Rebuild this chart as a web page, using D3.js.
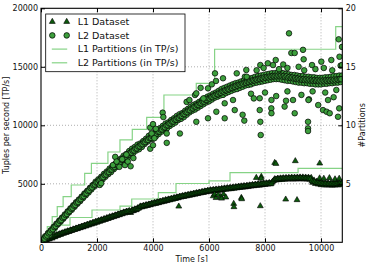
<!DOCTYPE html>
<html>
<head>
<meta charset="utf-8">
<script src="https://cdn.jsdelivr.net/npm/d3@7"></script>
<style>
body { margin: 0; background: #fff; }
text { font-family: "DejaVu Sans", sans-serif; fill: #111; }
</style>
</head>
<body>
<div id="chart"></div>
<script>
// dense measurement runs, one value every runStep seconds
// run A starts at t=0, run B at t=runStep/2
var runStep = 50;
var l1Run = [
    0, 80, 60, 180, 150, 280, 260, 380, 340, 480,
    450, 600, 560, 690, 650, 780, 740, 870, 820, 960,
    900, 1040, 990, 1120, 1070, 1200, 1140, 1280, 1220, 1360,
    1290, 1440, 1370, 1520, 1450, 1600, 1530, 1680, 1610, 1770,
    1690, 1840, 1770, 1920, 1850, 2000, 1930, 2080, 2010, 2170,
    2090, 2240, 2170, 2320, 2250, 2400, 2330, 2480, 2410, 2570,
    2480, 2640, 2550, 2700, 2520, 2760, 2680, 2840, 2760, 2930,
    2940, 3080, 3000, 3130, 3060, 3190, 3120, 3250, 3180, 3320,
    3240, 3380, 3300, 3440, 3360, 3500, 3420, 3560, 3480, 3630,
    3540, 3680, 3600, 3740, 3660, 3800, 3720, 3860, 3780, 3920,
    3840, 3970, 3890, 4020, 3940, 4070, 3990, 4120, 4040, 4170,
    4090, 4220, 4140, 4270, 4190, 4320, 4240, 4370, 4290, 4420,
    4330, 4470, 4360, 4500, 4390, 4530, 4410, 4550, 4430, 4580,
    4480, 4620, 4510, 4650, 4540, 4680, 4560, 4700, 4590, 4730,
    4630, 4770, 4660, 4800, 4690, 4830, 4710, 4850, 4740, 4880,
    4780, 4920, 4810, 4950, 4840, 4980, 4860, 5000, 4890, 5030,
    4920, 5060, 4950, 5090, 4970, 5120, 5250, 5420, 5300, 5460,
    5330, 5480, 5350, 5500, 5370, 5520, 5380, 5530, 5390, 5540,
    5380, 5540, 5390, 5550, 5400, 5560, 5400, 5560, 5390, 5550,
    5380, 5540, 5360, 5520, 5100, 5300, 5000, 5200, 4950, 5150,
    4900, 5100, 4880, 5080, 4870, 5070, 4870, 5070, 4860, 5060,
    4870, 5080, 4880, 5090, 4900, 5100
];
var l1RunB = [
    30, 100, 140, 230, 270, 340, 370, 440, 460, 530,
    550, 620, 640, 710, 730, 790, 810, 870, 890, 940,
    960, 1020, 1040, 1100, 1120, 1180, 1200, 1260, 1280, 1340,
    1360, 1420, 1440, 1500, 1520, 1580, 1600, 1660, 1680, 1740,
    1760, 1820, 1840, 1900, 1920, 1980, 2000, 2060, 2080, 2140,
    2160, 2220, 2240, 2300, 2320, 2380, 2400, 2460, 2480, 2540,
    2550, 2610, 2620, 2600, 2640, 2730, 2750, 2810, 2830, 2890,
    3000, 3050, 3060, 3110, 3120, 3170, 3180, 3230, 3240, 3290,
    3300, 3350, 3360, 3410, 3420, 3470, 3480, 3530, 3540, 3590,
    3600, 3650, 3660, 3710, 3720, 3770, 3780, 3830, 3840, 3890,
    3900, 3940, 3950, 3990, 4000, 4040, 4050, 4090, 4100, 4140,
    4150, 4190, 4200, 4240, 4250, 4290, 4300, 4340, 4350, 4390,
    4390, 4420, 4420, 4450, 4450, 4480, 4480, 4510, 4510, 4540,
    4540, 4570, 4570, 4600, 4600, 4630, 4630, 4660, 4660, 4690,
    4690, 4720, 4720, 4750, 4750, 4780, 4780, 4810, 4810, 4840,
    4840, 4870, 4870, 4900, 4900, 4930, 4930, 4960, 4960, 4990,
    4980, 5010, 5000, 5030, 5030, 5210, 5320, 5370, 5370, 5410,
    5390, 5430, 5420, 5450, 5440, 5460, 5450, 5470, 5450, 5480,
    5450, 5480, 5460, 5490, 5470, 5490, 5460, 5480, 5450, 5470,
    5440, 5450, 5420, 5260, 5190, 5160, 5090, 5080, 5040, 5040,
    4990, 5000, 4970, 4990, 4960, 4980, 4950, 4980, 4950, 4970,
    4960, 4990, 4980, 5010, 4990
];
var l2Run = [
    0, 220, 180, 520, 430, 790, 610, 1030, 930, 1320,
    1250, 1590, 1520, 1860, 1760, 2110, 2020, 2380, 2270, 2640,
    2550, 2900, 2780, 3160, 3040, 3420, 3290, 3650, 3520, 3900,
    3780, 4170, 4020, 4400, 4260, 4660, 4520, 4900, 4760, 5180,
    4950, 5380, 5170, 5600, 5380, 5850, 5600, 6050, 5820, 6300,
    6000, 6500, 6250, 6700, 6450, 6950, 6650, 7150, 6900, 7400,
    7050, 7550, 7250, 7800, 7450, 8000, 7650, 8150, 7850, 8350,
    7950, 8450, 8150, 8650, 8400, 8850, 8600, 9100, 8800, 9250,
    8850, 9350, 9050, 9550, 9250, 9750, 9450, 9950, 9650, 10150,
    9750, 10250, 9950, 10450, 10100, 10600, 10250, 10800, 10450, 10950,
    10550, 11050, 10700, 11250, 10900, 11400, 11100, 11600, 11250, 11750,
    11350, 11850, 11500, 12000, 11650, 12150, 11800, 12300, 11950, 12450,
    12050, 12550, 12200, 12700, 12350, 12800, 12450, 12950, 12550, 13100,
    12600, 13200, 12750, 13300, 12850, 13400, 12950, 13500, 13050, 13600,
    13100, 13650, 13200, 13750, 13300, 13850, 13400, 13950, 13450, 14000,
    13500, 14050, 13600, 14150, 13650, 14200, 13700, 14250, 13750, 14300,
    13800, 14350, 13850, 14400, 13900, 14450, 13950, 14450, 13950, 14500,
    13950, 14500, 13900, 14450, 13850, 14400, 13800, 14350, 13800, 14300,
    13750, 14300, 13700, 14250, 13650, 14200, 13650, 14200, 13600, 14150,
    13600, 14150, 13550, 14100, 13550, 14100, 13500, 14050, 13500, 14050,
    13500, 14050, 13550, 14100, 13550, 14100, 13600, 14150, 13600, 14200,
    13650, 14200, 13650, 14250, 13700, 14250
];
var l2RunB = [
    60, 230, 310, 490, 580, 760, 850, 1030, 1110, 1300,
    1380, 1570, 1650, 1830, 1900, 2090, 2160, 2340, 2420, 2610,
    2680, 2870, 2940, 3130, 3190, 3380, 3440, 3630, 3690, 3880,
    3940, 4130, 4190, 4380, 4440, 4630, 4690, 4880, 4940, 5100,
    5130, 5300, 5350, 5520, 5570, 5740, 5790, 5960, 6010, 6180,
    6220, 6390, 6440, 6610, 6660, 6830, 6880, 7050, 7100, 7270,
    7310, 7460, 7490, 7640, 7670, 7820, 7850, 8000, 8030, 8180,
    8210, 8360, 8390, 8540, 8570, 8720, 8750, 8900, 8930, 9080,
    9110, 9260, 9290, 9440, 9470, 9620, 9650, 9800, 9830, 9980,
    10010, 10150, 10170, 10310, 10330, 10470, 10490, 10630, 10650, 10790,
    10810, 10950, 10970, 11110, 11130, 11270, 11290, 11430, 11450, 11590,
    11600, 11730, 11740, 11870, 11880, 12010, 12020, 12150, 12160, 12290,
    12300, 12420, 12420, 12540, 12540, 12660, 12660, 12780, 12780, 12900,
    12890, 13000, 12990, 13100, 13090, 13200, 13190, 13300, 13290, 13400,
    13380, 13480, 13460, 13560, 13540, 13640, 13620, 13720, 13700, 13800,
    13770, 13860, 13830, 13920, 13890, 13980, 13950, 14040, 14010, 14100,
    14060, 14140, 14100, 14180, 14140, 14220, 14170, 14230, 14180, 14250,
    14190, 14240, 14160, 14220, 14120, 14180, 14070, 14130, 14030, 14080,
    13990, 14040, 13950, 14000, 13910, 13960, 13880, 13940, 13860, 13920,
    13840, 13900, 13820, 13880, 13800, 13860, 13780, 13840, 13760, 13820,
    13750, 13830, 13770, 13850, 13790, 13870, 13810, 13890, 13830, 13910,
    13850, 13930, 13890, 13960, 13940
];

// scattered samples off the main run [time, TP/s]
var l1Extra = [
    [4920, 3070], [6150, 3950], [6200, 4100], [6250, 3800], [6330, 4050],
    [6420, 3900], [6450, 3750], [6520, 4100], [6600, 3850], [6882, 3300],
    [6890, 3020], [7154, 3810], [7168, 3700], [7689, 5520], [7868, 5610],
    [7860, 5450], [7832, 3100], [8346, 6800], [8390, 6720], [8739, 3670],
    [9082, 6950], [9143, 3620], [9954, 6750], [9950, 5480], [10100, 5450],
    [10300, 5500], [10500, 5400], [10650, 5450]
];
var l2Extra = [
    [2100, 4900], [2150, 5050], [2570, 6600], [2650, 7300], [2700, 6900],
    [2800, 6450], [2900, 7100], [3000, 6600], [3050, 7500], [3100, 6900],
    [3200, 6500], [3300, 7200], [3900, 8000], [4000, 8300], [3950, 9300],
    [4050, 8900], [3900, 9800], [4000, 10100], [4100, 9700], [4345, 11080],
    [4370, 10700], [4490, 8500], [4490, 9300], [4960, 9300], [5200, 12000],
    [5300, 12160], [5500, 12590], [5546, 12730], [5546, 10300], [5700, 13200],
    [5800, 12300], [5964, 13160], [5964, 10600], [6100, 13500], [6214, 14440],
    [6250, 13790], [6261, 11160], [6500, 14020], [6560, 11880], [6560, 10600],
    [6857, 12160], [6918, 11300], [6990, 14440], [7200, 10900], [7260, 10400],
    [7280, 14150], [7332, 14730], [7346, 14150], [7500, 12700], [7600, 12300],
    [7700, 14700], [7810, 11300], [7810, 12310], [7832, 10300], [7832, 15150],
    [7846, 9170], [7950, 14900], [8000, 12800], [8100, 15300], [8225, 11450],
    [8230, 12160], [8230, 11030], [8286, 15150], [8382, 15580], [8400, 12500],
    [8500, 14800], [8650, 15200], [8700, 11600], [8750, 12100], [8800, 14900],
    [8800, 12900], [8857, 17860], [8940, 16180], [9000, 12160], [9060, 16180],
    [9060, 11030], [9200, 15000], [9300, 12600], [9357, 16450], [9380, 15640],
    [9400, 14700], [9536, 10300], [9536, 9740], [9536, 9510], [9570, 12220],
    [9550, 12160], [9679, 15150], [9700, 12900], [9800, 14800], [9900, 11730],
    [10011, 15440], [10071, 11300], [10100, 14900], [10150, 12800], [10200, 11160],
    [10250, 12160], [10310, 11030], [10368, 15580], [10400, 14700], [10450, 12400],
    [10546, 13020], [10607, 10730], [10632, 17350], [10650, 11450], [10660, 15860],
    [10700, 15100], [10750, 15150], [10750, 16700]
];

// partition steps, expressed in TP/s [start time, level]
var l1PartTime = [0, 560, 1036, 1821, 2821, 3240, 4190, 4821, 6000, 6750, 9180, 10760];
var l1PartValue = [500, 1470, 2120, 2760, 3100, 3700, 4240, 5025, 5256, 5950, 6325, 6325];
var l2PartTime = [0, 225, 400, 580, 790, 1080, 1560, 1800, 2390, 2820, 3260, 3775, 4390, 5545, 6200, 10525, 10760];
var l2PartValue = [540, 1333, 2188, 3043, 3897, 4897, 5897, 6752, 7720, 8750, 9660, 10680, 12590, 13590, 16500, 18430, 18430];

var xTicks = [0, 2000, 4000, 6000, 8000, 10000];
var yTicks = [5000, 10000, 15000, 20000];
var partTicks = [5, 10, 15, 20];
var legendLabels = ['L1 Dataset', 'L2 Dataset', 'L1 Partitions (in TP/s)', 'L2 Partitions (in TP/s)'];

var width = 366;
var height = 262;
var plotLeft = 41, plotRight = 342.3, plotTop = 8.3, plotBottom = 242.3;

var lineColor = '#86d386';
var l1Fill = '#0d5a0d';
var l2Fill = '#3c9f3c';

var x = d3.scaleLinear().domain([0, 10760]).range([plotLeft, plotRight]);
var y = d3.scaleLinear().domain([0, 20000]).range([plotBottom, plotTop]);
var yPart = d3.scaleLinear().domain([0, 20]).range([plotBottom, plotTop]);

var svg = d3.select('#chart').append('svg')
    .attr('width', width)
    .attr('height', height);

svg.append('defs').append('clipPath')
    .attr('id', 'plot-clip')
    .append('rect')
    .attr('x', plotLeft)
    .attr('y', plotTop)
    .attr('width', plotRight - plotLeft)
    .attr('height', plotBottom - plotTop);

// grid
var grid = svg.append('g')
    .attr('stroke', '#9a9a9a')
    .attr('stroke-width', 0.8)
    .attr('stroke-dasharray', '1,2');

grid.selectAll('.gx')
    .data(xTicks.slice(1))
    .enter()
    .append('line')
    .attr('x1', function(d) { return x(d); })
    .attr('x2', function(d) { return x(d); })
    .attr('y1', plotTop)
    .attr('y2', plotBottom);

grid.selectAll('.gy')
    .data(yTicks.slice(0, 3))
    .enter()
    .append('line')
    .attr('x1', plotLeft)
    .attr('x2', plotRight)
    .attr('y1', function(d) { return y(d); })
    .attr('y2', function(d) { return y(d); });

var plot = svg.append('g').attr('clip-path', 'url(#plot-clip)');

// step lines for partitions
var stepLine = d3.line()
    .x(function(d) { return x(d[0]); })
    .y(function(d) { return y(d[1]); })
    .curve(d3.curveStepAfter);

var l1Part = l1PartTime.map(function(t, i) { return [t, l1PartValue[i]]; });
var l2Part = l2PartTime.map(function(t, i) { return [t, l2PartValue[i]]; });

[l1Part, l2Part].forEach(function(steps) {
    plot.append('path')
        .datum(steps)
        .attr('d', stepLine)
        .attr('fill', 'none')
        .attr('stroke', lineColor)
        .attr('stroke-width', 1.2);
});

// scatter points
function runPoints(run, start) {
    return run.map(function(v, i) { return [start + i * runStep, v]; });
}
var l1Points = runPoints(l1Run, 0).concat(runPoints(l1RunB, runStep / 2), l1Extra);
var l2Points = runPoints(l2Run, 0).concat(runPoints(l2RunB, runStep / 2), l2Extra);

var triangle = d3.symbol().type(d3.symbolTriangle).size(15);

plot.append('g')
    .selectAll('path')
    .data(l1Points)
    .enter()
    .append('path')
    .attr('d', triangle)
    .attr('transform', function(d) { return 'translate(' + x(d[0]) + ',' + y(d[1]) + ')'; })
    .attr('fill', l1Fill)
    .attr('stroke', '#000')
    .attr('stroke-width', 0.6);

plot.append('g')
    .selectAll('circle')
    .data(l2Points)
    .enter()
    .append('circle')
    .attr('cx', function(d) { return x(d[0]); })
    .attr('cy', function(d) { return y(d[1]); })
    .attr('r', 2.8)
    .attr('fill', l2Fill)
    .attr('stroke', '#000')
    .attr('stroke-width', 0.7);

// axes
function styleAxis(g) {
    g.select('.domain').remove();
    g.selectAll('line').attr('stroke', '#000');
    g.selectAll('text').style('font-family', '"DejaVu Sans", sans-serif').attr('fill', '#111');
}

var fmt = d3.format('d');

svg.append('g')
    .attr('transform', 'translate(0,' + plotBottom + ')')
    .call(d3.axisBottom(x).tickValues(xTicks).tickFormat(fmt).tickSizeInner(-4).tickSizeOuter(0).tickPadding(3.5))
    .attr('font-size', 8)
    .call(styleAxis);

svg.append('g')
    .attr('transform', 'translate(0,' + plotTop + ')')
    .call(d3.axisTop(x).tickValues(xTicks).tickSizeInner(-4).tickSizeOuter(0).tickFormat(''))
    .call(styleAxis);

svg.append('g')
    .attr('transform', 'translate(' + plotLeft + ',0)')
    .call(d3.axisLeft(y).tickValues(yTicks).tickFormat(fmt).tickSizeInner(-4).tickSizeOuter(0).tickPadding(3))
    .attr('font-size', 8)
    .call(styleAxis);

svg.append('g')
    .attr('transform', 'translate(' + plotRight + ',0)')
    .call(d3.axisRight(yPart).tickValues(partTicks).tickFormat(fmt).tickSizeInner(-4).tickSizeOuter(0).tickPadding(3.4))
    .attr('font-size', 8)
    .call(styleAxis);

// frame
svg.append('rect')
    .attr('x', plotLeft)
    .attr('y', plotTop)
    .attr('width', plotRight - plotLeft)
    .attr('height', plotBottom - plotTop)
    .attr('fill', 'none')
    .attr('stroke', '#000')
    .attr('stroke-width', 1.1);

// axis titles
svg.append('text')
    .attr('x', (plotLeft + plotRight) / 2)
    .attr('y', 261.5)
    .attr('text-anchor', 'middle')
    .attr('font-size', 8)
    .text('Time [s]');

svg.append('text')
    .attr('transform', 'translate(8.5,' + (plotTop + plotBottom) / 2 + ') rotate(-90)')
    .attr('text-anchor', 'middle')
    .attr('font-size', 8)
    .text('Tuples per second [TP/s]');

svg.append('text')
    .attr('transform', 'translate(365,' + (plotTop + plotBottom) / 2 + ') rotate(-90)')
    .attr('text-anchor', 'middle')
    .attr('font-size', 8)
    .text('#Partitions');

// legend
var legend = svg.append('g');

legend.append('rect')
    .attr('x', 45.7)
    .attr('y', 14)
    .attr('width', 139.3)
    .attr('height', 57.7)
    .attr('fill', '#fff')
    .attr('stroke', '#000')
    .attr('stroke-width', 0.8);

var rowY = [21.7, 35.4, 49.1, 62.8];
var markX = [52.3, 66.7];

legendLabels.forEach(function(label, i) {
    var row = legend.append('g').attr('transform', 'translate(0,' + rowY[i] + ')');
    if (i === 0) {
        markX.forEach(function(mx) {
            row.append('path')
                .attr('d', triangle)
                .attr('transform', 'translate(' + mx + ',0)')
                .attr('fill', l1Fill)
                .attr('stroke', '#000')
                .attr('stroke-width', 0.6);
        });
    } else if (i === 1) {
        markX.forEach(function(mx) {
            row.append('circle')
                .attr('cx', mx)
                .attr('cy', 0)
                .attr('r', 2.8)
                .attr('fill', l2Fill)
                .attr('stroke', '#000')
                .attr('stroke-width', 0.7);
        });
    } else {
        row.append('line')
            .attr('x1', markX[0] - 0.5)
            .attr('x2', markX[1] + 0.5)
            .attr('stroke', lineColor)
            .attr('stroke-width', 1.2);
    }
    row.append('text')
        .attr('x', 77.7)
        .attr('dy', '0.35em')
        .attr('font-size', 9.5)
        .text(label);
});
</script>
</body>
</html>
